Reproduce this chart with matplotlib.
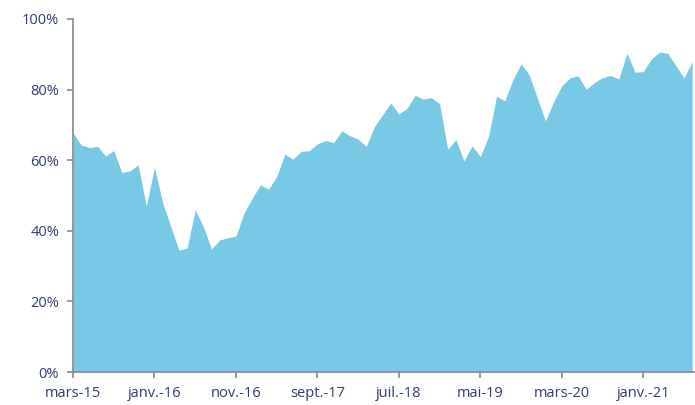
import numpy as np
import matplotlib.pyplot as plt

# monthly values, mars-15 .. juil.-21 (in %)
values = [67.8, 64.3, 63.6, 63.9, 61.2, 62.7, 56.5, 57.0, 58.7, 47.0,
          58.0, 48.0, 41.2, 34.5, 35.1, 45.9, 41.2, 34.8, 37.4, 38.0,
          38.5, 45.1, 49.2, 53.0, 51.8, 55.3, 61.7, 60.3, 62.5, 62.7,
          64.6, 65.6, 65.0, 68.3, 66.9, 66.0, 63.9, 69.5, 72.8, 76.2,
          73.1, 74.7, 78.4, 77.3, 77.7, 76.0, 63.1, 65.8, 59.8, 64.1,
          61.0, 66.7, 78.1, 76.8, 82.8, 87.3, 84.2, 77.6, 71.1, 76.6,
          81.1, 83.3, 83.9, 80.1, 82.0, 83.4, 84.0, 83.0, 90.3, 84.9,
          85.1, 88.7, 90.6, 90.3, 86.8, 83.3, 88.0]
tick_labels = ["mars-15", "janv.-16", "nov.-16", "sept.-17", "juil.-18",
               "mai-19", "mars-20", "janv.-21"]
y_ticks = [0, 20, 40, 60, 80, 100]

x = np.arange(len(values))
txt = "#2e3f6e"
plt.rcParams['font.family'] = ['Open Sans', 'DejaVu Sans']

fig = plt.figure(figsize=(6.95, 4.05), dpi=100)
ax = fig.add_axes([73/695, 33/405, 1 - 73/695, 353/405])
ax.fill_between(x, values, 0, color="#77c9e5", linewidth=0)

ax.set_xlim(0, 76.35)
ax.set_ylim(0, 100)
ax.set_xticks(np.arange(0, 80, 10))
ax.set_xticklabels(tick_labels)
ax.set_yticks(y_ticks)
ax.set_yticklabels([str(v) + "%" for v in y_ticks])

for s in ["top", "right"]:
    ax.spines[s].set_visible(False)
for s in ["left", "bottom"]:
    ax.spines[s].set_color("#888888")
    ax.spines[s].set_linewidth(1.2)
ax.tick_params(colors="#888888", labelcolor=txt, labelsize=10.5, length=4, width=1.2)
ax.tick_params(axis="y", pad=6)
ax.tick_params(axis="x", pad=6)

fig.savefig("out.png", dpi=100)
